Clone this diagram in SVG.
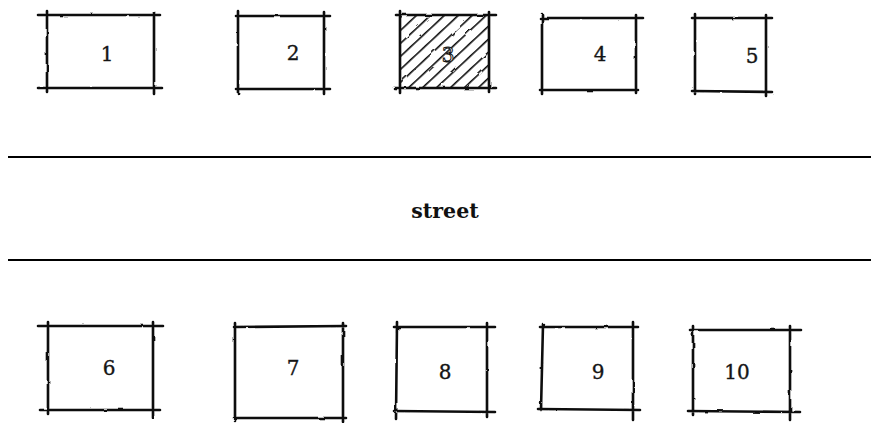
<svg xmlns="http://www.w3.org/2000/svg" width="871" height="423" viewBox="0 0 871 423">
  <style>
    .frame { fill: none; stroke: #111; stroke-width: 2.6; stroke-linecap: round; filter: url(#rough); }
    .lbl { font-family: "DejaVu Serif", "Liberation Serif", serif; font-size: 20px; fill: #151515; stroke: #151515; stroke-width: 0.35; text-anchor: middle; dominant-baseline: central; }
    .street-line { stroke: #000; stroke-width: 2.2; }
    .street { font-family: "DejaVu Serif", "Liberation Serif", serif; font-weight: bold; font-size: 20.5px; fill: #111; text-anchor: middle; }
  </style>
  <defs>
    <filter id="rough" x="-5%" y="-5%" width="110%" height="110%">
      <feTurbulence type="fractalNoise" baseFrequency="0.08" numOctaves="2" seed="3"/>
      <feDisplacementMap in="SourceGraphic" scale="2.2"/>
    </filter>
    <pattern id="hatch" width="9.5" height="9.5" patternUnits="userSpaceOnUse" patternTransform="rotate(47)">
      <line x1="0" y1="0" x2="0" y2="9.5" stroke="#111" stroke-width="3.2"/>
    </pattern>
  </defs>
  <rect width="871" height="423" fill="#fff"/>

  <g id="connectors">
    <line class="street-line" x1="8" y1="157" x2="871" y2="157"/>
    <line class="street-line" x1="8" y1="260" x2="871" y2="260"/>
  </g>
  <text class="street" x="445" y="218">street</text>

  <g id="lot1">
    <path class="frame" d="M38 15 L160 15 M38 88 L162 88 M47 11 L47 92 M154 12 L154 94"/>
    <text class="lbl" x="107" y="54">1</text>
  </g>
  <g id="lot2">
    <path class="frame" d="M236 16 L330 16 M236 89 L330 89 M238 11 L238 93 M324 12 L324 94"/>
    <text class="lbl" x="293" y="53">2</text>
  </g>
  <g id="lot3">
    <rect x="400" y="15" width="89" height="73" fill="url(#hatch)" filter="url(#rough)"/>
    <path class="frame" d="M396 15 L496 15 M394 88 L496 88 M400 11 L400 93 M489 12 L489 92"/>
    <text class="lbl" x="448" y="55" style="fill:#fff;stroke:#111;stroke-width:1">3</text>
  </g>
  <g id="lot4">
    <path class="frame" d="M540 18 L643 18 M540 90 L638 90 M542 14 L542 94 M636 15 L636 93"/>
    <text class="lbl" x="600" y="54">4</text>
  </g>
  <g id="lot5">
    <path class="frame" d="M692 18 L772 18 M692 91 L772 92 M695 14 L695 94 M766 15 L766 96"/>
    <text class="lbl" x="752" y="56">5</text>
  </g>
  <g id="lot6">
    <path class="frame" d="M38 326 L163 326 M40 410 L160 410 M48 322 L48 414 M153 322 L153 418"/>
    <text class="lbl" x="109" y="368">6</text>
  </g>
  <g id="lot7">
    <path class="frame" d="M234 327 L346 326 M234 418 L346 418 M235 323 L235 421 M343 323 L343 422"/>
    <text class="lbl" x="293" y="368">7</text>
  </g>
  <g id="lot8">
    <path class="frame" d="M394 327 L495 327 M394 411 L495 412 M397 322 L396 419 M487 323 L487 417"/>
    <text class="lbl" x="445" y="372">8</text>
  </g>
  <g id="lot9">
    <path class="frame" d="M540 327 L638 327 M538 409 L640 410 M543 324 L541 410 M633 322 L633 420"/>
    <text class="lbl" x="598" y="372">9</text>
  </g>
  <g id="lot10">
    <path class="frame" d="M690 330 L801 330 M688 411 L800 412 M693 326 L693 415 M790 326 L790 420"/>
    <text class="lbl" x="737" y="372">10</text>
  </g>
</svg>
